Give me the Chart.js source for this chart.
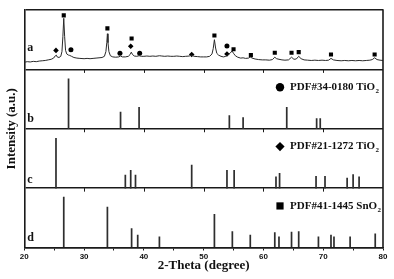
<!DOCTYPE html>
<html>
<head>
<meta charset="utf-8">
<script src="https://cdn.jsdelivr.net/npm/chart.js@4.4.0/dist/chart.umd.min.js"></script>
<style>
  html, body { margin: 0; padding: 0; background: #fff; }
  #wrap { width: 394px; height: 279px; }
</style>
</head>
<body>
<div id="wrap"><canvas id="xrd" width="394" height="279"></canvas></div>
<script>
// Measured pattern of sample a: [2-theta, intensity as % of panel height]
const sampleA = [
  [20.0, 12], [20.5, 13], [21.0, 12.5], [21.5, 13.5], [22.0, 13], [22.5, 14], [23.0, 14.5],
  [23.5, 15], [24.0, 16], [24.5, 17], [24.9, 19], [25.2, 23], [25.35, 24], [25.5, 21],
  [25.8, 20], [26.1, 22], [26.3, 30], [26.45, 55], [26.6, 86], [26.75, 55], [26.9, 32],
  [27.1, 26], [27.4, 24], [27.6, 23.5], [27.9, 22], [28.3, 20], [28.8, 19], [29.3, 18.5],
  [30.0, 18], [30.5, 18.5], [31.0, 18], [31.5, 18.5], [32.0, 19], [32.5, 19.5], [33.0, 20],
  [33.4, 22], [33.65, 30], [33.8, 45], [33.9, 60], [34.0, 45], [34.15, 30], [34.4, 23],
  [34.8, 21], [35.3, 20.5], [35.8, 21], [36.1, 22.5], [36.4, 21], [36.9, 21], [37.4, 22],
  [37.7, 25], [37.9, 29], [38.1, 25], [38.4, 22.5], [38.8, 22], [39.2, 23], [39.6, 22],
  [40.0, 22], [40.5, 22.5], [41.0, 22], [41.5, 22.5], [42.0, 22], [42.6, 23], [43.0, 22.5],
  [43.5, 22], [44.0, 22.5], [44.5, 22], [45.0, 22], [45.5, 22.5], [46.0, 22], [46.5, 21.5],
  [47.0, 22], [47.6, 22.5], [48.0, 24], [48.4, 22], [49.0, 21.5], [49.5, 21], [50.0, 21],
  [50.5, 21], [51.0, 22], [51.4, 26], [51.6, 35], [51.8, 50], [52.0, 36], [52.2, 27],
  [52.5, 24], [52.9, 22], [53.3, 21], [53.7, 22], [54.0, 24], [54.4, 27], [54.75, 31],
  [55.0, 27], [55.3, 23], [55.7, 20.5], [56.2, 19], [56.6, 19.5], [57.0, 18.5], [57.5, 19],
  [57.8, 21], [58.1, 19], [58.6, 17.5], [59.2, 16.5], [59.8, 16], [60.4, 16], [61.0, 15.5],
  [61.5, 16.5], [61.9, 20.5], [62.2, 18], [62.6, 17], [63.1, 16], [63.6, 15.5], [64.2, 16],
  [64.7, 20.5], [65.1, 17], [65.5, 17.5], [65.9, 22], [66.3, 18], [66.8, 16], [67.4, 15.5],
  [68.0, 15], [68.6, 15.5], [69.2, 15], [69.8, 15.5], [70.4, 15], [70.9, 15.5], [71.3, 18.5],
  [71.7, 16], [72.3, 15], [73.0, 14.5], [73.6, 15], [74.2, 14.5], [74.8, 15], [75.4, 14.5],
  [76.0, 15], [76.6, 14.5], [77.2, 15], [77.8, 15.5], [78.2, 16.5], [78.6, 19.5], [79.0, 16.5],
  [79.5, 15.5], [80.0, 15]
];

// Phase markers above the peaks of sample a
const markSnO2 = [[26.6, 91], [33.9, 69], [37.95, 52], [51.8, 57], [55.0, 34], [57.9, 24],
  [61.9, 28], [64.7, 28], [65.9, 29], [71.3, 25], [78.6, 25]];
const markRutile = [[27.8, 33], [36.0, 27], [39.3, 27], [53.9, 39.5]];
const markAnatase = [[25.3, 32], [37.8, 39], [48.0, 25], [53.9, 26]];

// Reference cards
const rutileAngles = [27.4, 36.1, 39.2, 54.3, 56.6, 63.9, 68.9, 69.5];
const rutileHeights = [84, 28, 36, 22, 19, 36, 17, 17];

const anataseAngles = [25.3, 36.9, 37.8, 38.6, 48.0, 53.9, 55.1, 62.1, 62.7, 68.8, 70.3, 74.0, 75.0, 76.0];
const anataseHeights = [84, 22, 30, 22, 39, 30, 30, 19, 25, 20, 20, 17, 23, 19];

const sno2Angles = [26.6, 33.9, 37.95, 38.97, 42.6, 51.8, 54.8, 57.8, 61.9, 62.6, 64.7, 65.9, 69.2, 71.3, 71.8, 74.5, 78.7];
const sno2Heights = [85, 68, 32, 21, 18, 56, 27, 21, 25, 18, 26, 27, 18, 21, 18, 18, 23];

const panelNames = ['a', 'b', 'c', 'd'];
const panelBase = [300, 200, 100, 0];
const xTickLabels = [20, 30, 40, 50, 60, 70, 80];

const legendItems = [
  { panel: 1, shape: 'circle', text: 'PDF#34-0180 TiO', sub: '2' },
  { panel: 2, shape: 'diamond', text: 'PDF#21-1272 TiO', sub: '2' },
  { panel: 3, shape: 'square', text: 'PDF#41-1445 SnO', sub: '2' }
];

const ink = '#1a1a1a';
const serif = '"Liberation Serif", "Times New Roman", serif';

function curve(points, base) {
  return points.map(([t, v]) => ({ x: t, y: base + v }));
}

function sticks(angles, heights, base) {
  return angles.map((t, i) => ({ x: t, y: [base, base + heights[i]] }));
}

function stickSet(angles, heights, base) {
  return {
    type: 'bar',
    data: sticks(angles, heights, base),
    backgroundColor: '#2e2e2e',
    barThickness: 1.05,
    grouped: false
  };
}

function markerSet(points, style, radius) {
  return {
    type: 'line',
    data: curve(points, panelBase[0]),
    showLine: false,
    pointStyle: style,
    pointRadius: radius,
    pointBackgroundColor: '#000',
    pointBorderColor: '#000',
    pointBorderWidth: 0
  };
}

function drawShape(ctx, shape, cx, cy) {
  ctx.beginPath();
  if (shape === 'circle') {
    ctx.arc(cx, cy, 4.2, 0, Math.PI * 2);
  } else if (shape === 'diamond') {
    ctx.moveTo(cx, cy - 4.6); ctx.lineTo(cx + 4.6, cy);
    ctx.lineTo(cx, cy + 4.6); ctx.lineTo(cx - 4.6, cy);
    ctx.closePath();
  } else {
    ctx.rect(cx - 3.6, cy - 3.6, 7.2, 7.2);
  }
  ctx.fill();
}

// Right frame, small ticks under each separator, panel letters and card legends
const panelDecor = {
  id: 'panelDecor',
  afterDraw(chart) {
    const { ctx, chartArea: area, scales: { x, y } } = chart;
    ctx.save();
    ctx.strokeStyle = ink;
    ctx.lineWidth = 1.6;
    ctx.beginPath();
    ctx.moveTo(area.right, area.top - 0.8);
    ctx.lineTo(area.right, area.bottom + 0.8);
    ctx.stroke();

    ctx.lineWidth = 1;
    panelBase.slice(0, 3).forEach(base => {
      const py = y.getPixelForValue(base);
      [30, 40, 50, 60, 70].forEach(t => {
        const px = Math.round(x.getPixelForValue(t)) + 0.5;
        ctx.beginPath();
        ctx.moveTo(px, py);
        ctx.lineTo(px, py + 3.5);
        ctx.stroke();
      });
    });

    ctx.fillStyle = '#111';
    ctx.font = 'bold 12px ' + serif;
    ctx.textBaseline = 'middle';
    ctx.textAlign = 'left';
    const letterLift = [36, 16, 14, 16];
    panelNames.forEach((name, i) => {
      ctx.fillText(name, area.left + 3, y.getPixelForValue(panelBase[i] + letterLift[i]));
    });

    legendItems.forEach(item => {
      const cy = y.getPixelForValue(panelBase[item.panel] + 70);
      const tx = area.right - 93;
      ctx.fillStyle = '#000';
      drawShape(ctx, item.shape, tx - 10, cy);
      ctx.fillStyle = '#111';
      ctx.font = 'bold 11px ' + serif;
      ctx.textAlign = 'left';
      ctx.fillText(item.text, tx, cy);
      const w = ctx.measureText(item.text).width;
      ctx.font = 'bold 7px ' + serif;
      ctx.fillText(item.sub, tx + w + 0.5, cy + 4);
    });
    ctx.restore();
  }
};

new Chart(document.getElementById('xrd'), {
  type: 'line',
  data: {
    datasets: [
      {
        type: 'line',
        data: curve(sampleA, panelBase[0]),
        borderColor: '#2a2a2a',
        borderWidth: 1,
        pointRadius: 0,
        tension: 0
      },
      markerSet(markSnO2, 'rect', 2.9),
      markerSet(markRutile, 'circle', 2.5),
      markerSet(markAnatase, 'rectRot', 2.8),
      stickSet(rutileAngles, rutileHeights, panelBase[1]),
      stickSet(anataseAngles, anataseHeights, panelBase[2]),
      stickSet(sno2Angles, sno2Heights, panelBase[3])
    ]
  },
  options: {
    responsive: false,
    devicePixelRatio: 1,
    animation: false,
    layout: { padding: { top: 10, right: 11, left: 0, bottom: 0 } },
    plugins: {
      legend: { display: false },
      tooltip: { enabled: false }
    },
    scales: {
      x: {
        type: 'linear',
        min: 20,
        max: 80,
        offset: false,
        afterFit: scale => { scale.height = 31.5; },
        border: { display: true, color: ink, width: 1.6 },
        grid: { offset: false, drawOnChartArea: false, tickLength: 3, tickColor: ink, tickWidth: 1 },
        ticks: {
          stepSize: 5,
          autoSkip: false,
          maxRotation: 0,
          minRotation: 0,
          padding: 1.5,
          color: '#111',
          font: { family: '"Liberation Sans", Arial, sans-serif', weight: 'bold', size: 8 },
          callback: v => (xTickLabels.includes(v) ? String(v) : '')
        },
        title: {
          display: true,
          text: '2-Theta (degree)',
          color: '#111',
          font: { family: serif, weight: 'bold', size: 13, lineHeight: 1 },
          padding: { top: 0, bottom: 7 }
        }
      },
      y: {
        min: 0,
        max: 400,
        afterFit: scale => { scale.width = 24.3; },
        border: { display: true, color: ink, width: 1.6 },
        grid: { color: ink, lineWidth: 1.6, drawTicks: false },
        ticks: { stepSize: 100, display: false },
        title: {
          display: true,
          text: 'Intensity (a.u.)',
          color: '#111',
          font: { family: serif, weight: 'bold', size: 13, lineHeight: 1 },
          padding: { top: 5.5, bottom: 0 }
        }
      }
    }
  },
  plugins: [panelDecor]
});
</script>
</body>
</html>
